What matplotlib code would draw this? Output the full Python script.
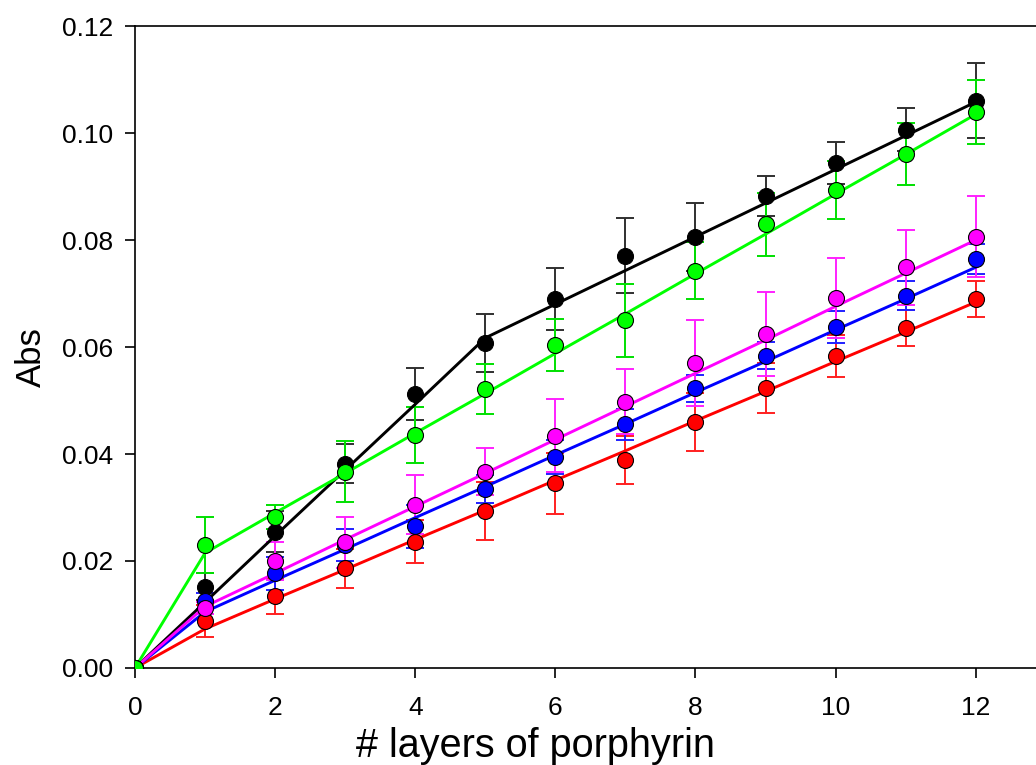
import numpy as np
import matplotlib
matplotlib.use("Agg")
import matplotlib.pyplot as plt

plt.rcParams['font.family'] = ['Liberation Sans', 'DejaVu Sans']

layers = [0, 1, 2, 3, 4, 5, 6, 7, 8, 9, 10, 11, 12]

# measured absorbance (mean) for each film
abs_black = [0.0, 0.0152, 0.0255, 0.0382, 0.0512, 0.0608, 0.0690, 0.0771, 0.0806, 0.0882, 0.0944, 0.1006, 0.1060]
abs_green = [0.0, 0.0230, 0.0282, 0.0367, 0.0436, 0.0522, 0.0604, 0.0650, 0.0743, 0.0829, 0.0893, 0.0961, 0.1039]
abs_magenta = [0.0, 0.0112, 0.0200, 0.0235, 0.0305, 0.0367, 0.0434, 0.0498, 0.0570, 0.0624, 0.0691, 0.0749, 0.0806]
abs_blue = [0.0, 0.0125, 0.0177, 0.0230, 0.0265, 0.0334, 0.0394, 0.0456, 0.0523, 0.0584, 0.0637, 0.0696, 0.0764]
abs_red = [0.0, 0.0088, 0.0134, 0.0186, 0.0236, 0.0293, 0.0345, 0.0388, 0.0460, 0.0523, 0.0583, 0.0636, 0.0690]

# standard deviations
err_black = [0.0, 0.0025, 0.0038, 0.0036, 0.0048, 0.0054, 0.0058, 0.0070, 0.0064, 0.0038, 0.0040, 0.0040, 0.0070]
err_green = [0.0, 0.0052, 0.0023, 0.0057, 0.0052, 0.0047, 0.0048, 0.0068, 0.0053, 0.0058, 0.0054, 0.0058, 0.0060]
err_magenta = [0.0, 0.0012, 0.0036, 0.0048, 0.0055, 0.0044, 0.0068, 0.0060, 0.0080, 0.0078, 0.0075, 0.0070, 0.0076]
err_blue = [0.0, 0.0015, 0.0031, 0.0030, 0.0040, 0.0026, 0.0032, 0.0029, 0.0025, 0.0025, 0.0030, 0.0027, 0.0028]
err_red = [0.0, 0.0030, 0.0033, 0.0036, 0.0040, 0.0054, 0.0057, 0.0045, 0.0054, 0.0047, 0.0040, 0.0034, 0.0033]

# fitted trend for each film
fit_black = [0.0, 0.0123, 0.0247, 0.0370, 0.0493, 0.0617, 0.0680, 0.0743, 0.0806, 0.0869, 0.0932, 0.0995, 0.1058]
fit_green = [0.0, 0.0215, 0.0290, 0.0364, 0.0439, 0.0513, 0.0588, 0.0662, 0.0737, 0.0811, 0.0886, 0.0960, 0.1035]
fit_magenta = [0.0, 0.0115, 0.0177, 0.0240, 0.0302, 0.0364, 0.0427, 0.0489, 0.0551, 0.0613, 0.0676, 0.0738, 0.0800]
fit_blue = [0.0, 0.0105, 0.0164, 0.0222, 0.0281, 0.0339, 0.0398, 0.0456, 0.0515, 0.0573, 0.0632, 0.0690, 0.0749]
fit_red = [0.0, 0.0073, 0.0129, 0.0184, 0.0240, 0.0295, 0.0351, 0.0406, 0.0462, 0.0517, 0.0573, 0.0628, 0.0684]

series = [
    (abs_black, err_black, fit_black, 'black', '#303030'),
    (abs_red, err_red, fit_red, '#ff0000', '#ff2020'),
    (abs_blue, err_blue, fit_blue, '#0000ff', '#2020ff'),
    (abs_magenta, err_magenta, fit_magenta, '#ff00ff', '#ff20ff'),
    (abs_green, err_green, fit_green, '#00ff00', '#00e000'),
]

fig = plt.figure(figsize=(10.36, 7.65), dpi=100)
ax = fig.add_axes([0.1303, 0.1268, 0.8697, 0.8392])

for y, e, fit, col, ecol in series:
    ax.errorbar(layers, y, yerr=e, fmt='none', ecolor=ecol, elinewidth=1.4,
                capsize=6.5, capthick=1.4, zorder=2)
    ax.plot(layers, fit, color=col, lw=2.1, zorder=3)
    ax.plot(layers, y, 'o', ms=11.5, mfc=col, mec='black', mew=0.8, zorder=4)

ax.set_xlim(-0.0, 12.86)
ax.set_ylim(0, 0.12)
ax.set_xticks([0, 2, 4, 6, 8, 10, 12])
ax.set_yticks([0.0, 0.02, 0.04, 0.06, 0.08, 0.10, 0.12])
ax.set_yticklabels(['0.00', '0.02', '0.04', '0.06', '0.08', '0.10', '0.12'])
ax.tick_params(direction='out', length=7, width=1.2, labelsize=19)
ax.tick_params(axis='y', pad=9)
ax.tick_params(axis='x', pad=13)
ax.spines['right'].set_visible(False)
for s in ['left', 'bottom', 'top']:
    ax.spines[s].set_linewidth(1.2)

ax.set_xlabel('# layers of porphyrin', fontsize=28.5)
ax.set_ylabel('Abs', fontsize=25)
ax.xaxis.set_label_coords(0.445, -0.092)
ax.yaxis.set_label_coords(-0.097, 0.485)

fig.savefig('out.png', dpi=100)
